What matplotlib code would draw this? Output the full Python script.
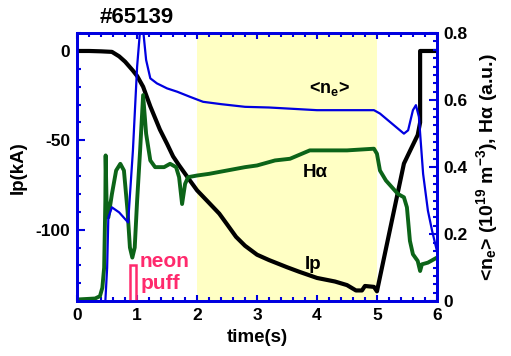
import numpy as np
from matplotlib import pyplot as plt
from matplotlib.patches import Rectangle
from matplotlib.ticker import MultipleLocator

# ---------------------------------------------------------------------------------------------------
# Data
# ---------------------------------------------------------------------------------------------------
shot = "#65139"

ip_t = [0.0, 0.2, 0.4, 0.58, 0.7, 0.8, 0.93, 1.0, 1.1, 1.22, 1.38, 1.5, 1.6, 1.7, 1.87, 2.0,
        2.2, 2.37, 2.5, 2.65, 2.8, 3.0, 3.2, 3.5, 3.7, 4.0, 4.3, 4.5, 4.65, 4.75, 4.8, 4.95,
        5.0, 5.45, 5.55, 5.68, 5.72, 5.72, 6.0]
ip_ka = [0.0, 0.0, -0.2, -0.5, -3, -6, -11, -14, -20, -31, -44, -52, -59, -64, -72, -78,
         -85, -91, -97, -104, -109, -114, -117, -121, -123.5, -127, -129, -131, -134, -134,
         -131.5, -132, -134.5, -63, -56, -47, -40, 0.0, 0.0]

ne_t = [0.0, 0.47, 0.5, 0.52, 0.58, 0.7, 0.85, 0.93, 1.0, 1.05, 1.1, 1.15, 1.22, 1.33, 1.5,
        1.67, 1.88, 2.1, 2.4, 2.8, 3.2, 3.6, 4.0, 4.5, 4.95, 5.05, 5.25, 5.45, 5.52, 5.6,
        5.65, 5.7, 5.77, 5.85, 5.92, 6.0]
ne_val = [0.0, 0.0, 0.1, 0.25, 0.28, 0.265, 0.235, 0.45, 0.7, 0.81, 0.81, 0.72, 0.665, 0.65,
          0.635, 0.625, 0.61, 0.595, 0.588, 0.58, 0.578, 0.574, 0.57, 0.57, 0.57, 0.56, 0.53,
          0.50, 0.51, 0.57, 0.585, 0.55, 0.38, 0.27, 0.21, 0.15]

ha_t = [0.0, 0.3, 0.38, 0.42, 0.45, 0.47, 0.475, 0.49, 0.52, 0.58, 0.65, 0.72, 0.78, 0.84,
        0.88, 0.92, 0.96, 1.0, 1.05, 1.1, 1.15, 1.22, 1.3, 1.45, 1.55, 1.65, 1.7, 1.75, 1.8,
        1.85, 2.0, 2.2, 2.5, 2.8, 3.0, 3.3, 3.55, 3.88, 4.5, 4.95, 5.0, 5.05, 5.15, 5.25,
        5.35, 5.45, 5.5, 5.55, 5.6, 5.68, 5.72, 5.75, 5.85, 5.95, 6.0]
ha_val = [0.005, 0.008, 0.015, 0.04, 0.1, 0.3, 0.435, 0.3, 0.25, 0.32, 0.39, 0.41, 0.39, 0.27,
          0.16, 0.13, 0.16, 0.3, 0.45, 0.615, 0.5, 0.42, 0.40, 0.40, 0.41, 0.40, 0.37, 0.29,
          0.35, 0.37, 0.375, 0.38, 0.39, 0.40, 0.405, 0.42, 0.425, 0.45, 0.45, 0.455, 0.44,
          0.39, 0.36, 0.34, 0.32, 0.31, 0.28, 0.18, 0.14, 0.12, 0.09, 0.11, 0.115, 0.125, 0.13]

flat_top = (2.0, 5.0)        # shaded window (s)
puff = (0.88, 0.98, -120)    # neon puff marker: t start, t end, top (kA)

# ---------------------------------------------------------------------------------------------------
# Style
# ---------------------------------------------------------------------------------------------------
plt.rcParams['font.family'] = ['Liberation Sans', 'DejaVu Sans']
plt.rcParams['font.weight'] = 'bold'
plt.rcParams['axes.unicode_minus'] = False
plt.rcParams['mathtext.fontset'] = 'custom'
plt.rcParams['mathtext.rm'] = 'Liberation Sans:bold'
plt.rcParams['mathtext.default'] = 'rm'

blue = "#0000e0"
green = "#0c6418"
pink = "#ff2a6d"

fig = plt.figure(figsize=(5.11, 3.56), dpi=100)
ax = fig.add_axes([0.151, 0.154, 0.704, 0.753])
ax2 = ax.twinx()

# Left axis: plasma current
ax.axvspan(*flat_top, color="#ffffc4", zorder=0, lw=0)
ax.plot(ip_t, ip_ka, color="black", lw=3, zorder=3)
ax.add_patch(Rectangle((puff[0], -140), puff[1] - puff[0], puff[2] + 140,
                       fill=False, edgecolor=pink, lw=1.8, zorder=4))
ax.set_xlim(0, 6)
ax.set_ylim(-140, 10)
ax.set_xticks(range(7))
ax.set_yticks([0, -50, -100])
ax.xaxis.set_minor_locator(MultipleLocator(0.2))
ax.yaxis.set_minor_locator(MultipleLocator(10))
ax.set_xlabel("time(s)", fontsize=13.5, fontweight="bold", labelpad=4)
ax.set_ylabel("Ip(kA)", fontsize=13.5, fontweight="bold", labelpad=6)

# Right axis: density and H-alpha
ax2.plot(ha_t, ha_val, color=green, lw=2.8, zorder=2)
ax2.plot(ne_t, ne_val, color=blue, lw=1.6, zorder=3)
ax2.set_ylim(0, 0.8)
ax2.set_yticks([0, 0.2, 0.4, 0.6, 0.8])
ax2.set_yticklabels(["0", "0.2", "0.4", "0.6", "0.8"])
ax2.yaxis.set_minor_locator(MultipleLocator(0.025))
ax2.set_ylabel("<n$_e$> (10$^{19}$ m$^{-3}$), H\u03b1 (a.u.)", fontsize=14,
               fontweight="bold", labelpad=4)

for a in (ax, ax2):
    for s in a.spines.values():
        s.set_color(blue)
        s.set_linewidth(2)
    a.tick_params(which="both", direction="in", color=blue, width=1.5, labelsize=12.5)
    a.tick_params(which="major", length=6, pad=5)
    a.tick_params(which="minor", length=3)
ax.tick_params(which="both", top=True, right=False)
ax.tick_params(axis="x", which="major", length=4)

# Annotations
ax2.text(4.2, 0.635, "<n$_e$>", fontsize=13, ha="center", va="center")
ax2.text(3.97, 0.385, "H\u03b1", fontsize=13.5, ha="center", va="center")
ax2.text(3.93, 0.11, "Ip", fontsize=13.5, ha="center", va="center")
ax2.text(1.05, 0.087, "neon\npuff", fontsize=15, color=pink, ha="left", va="center",
         linespacing=1.2)
fig.text(0.268, 0.952, shot, fontsize=16, fontweight="bold", ha="center", va="center")

plt.savefig("out.png", dpi=100)
